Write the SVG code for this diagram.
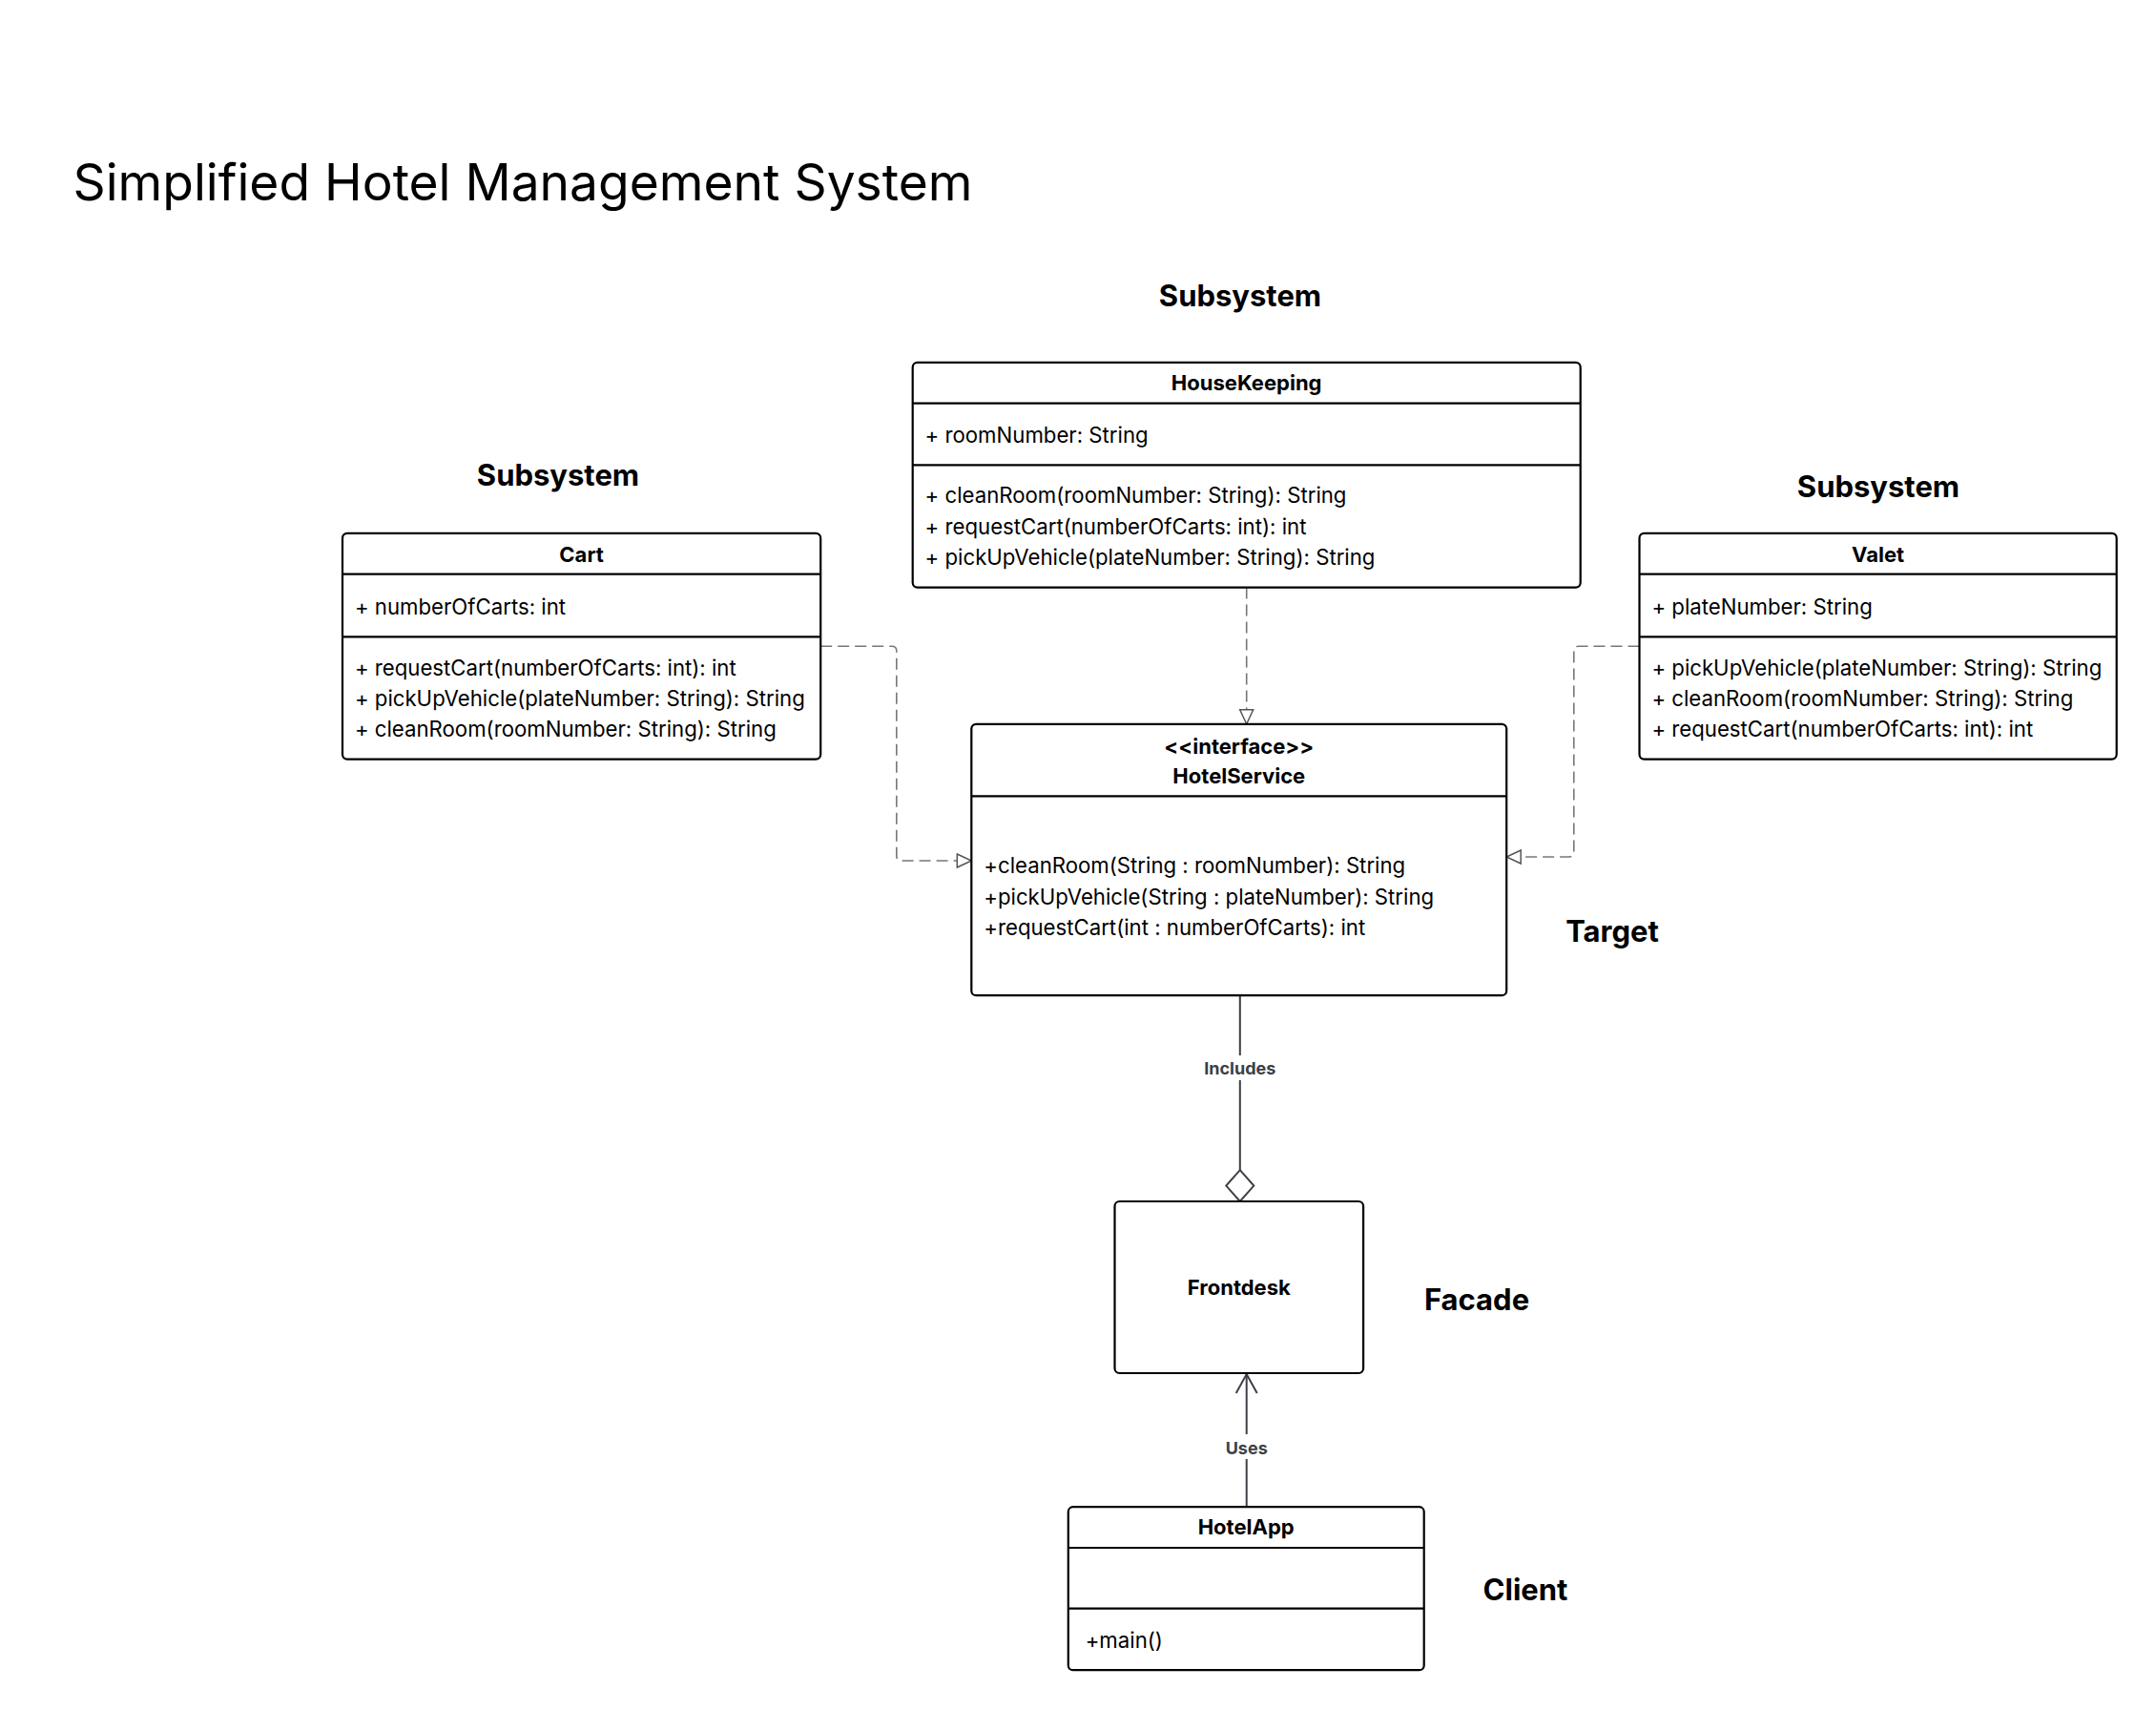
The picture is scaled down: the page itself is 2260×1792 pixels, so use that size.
<svg xmlns="http://www.w3.org/2000/svg" width="2260" height="1792" viewBox="0 0 2260 1792">
<style>
text{font-family:Inter,"Liberation Sans",sans-serif;fill:#000}
.box{fill:#fff;stroke:#000;stroke-width:2.2}
.ln{stroke:#000;stroke-width:2.2}
.hd{font-size:22px;font-weight:700;text-anchor:middle}
.tx{font-size:22.2px}
.lab{font-size:31px;font-weight:700;text-anchor:middle}
.dash{fill:none;stroke:#777;stroke-width:1.6;stroke-dasharray:12 6}
.solid{fill:none;stroke:#3c3f46;stroke-width:2}
.cl{font-size:18px;font-weight:700;fill:#3c3f46;text-anchor:middle}
</style>
<defs>
<marker id="tri" markerWidth="18" markerHeight="18" refX="16" refY="8" orient="auto" markerUnits="userSpaceOnUse">
<path d="M1,1 L16,8 L1,15 Z" fill="#fff" stroke="#555" stroke-width="1.5"/>
</marker>
<marker id="open" markerWidth="24" markerHeight="24" refX="21" refY="12" orient="auto" markerUnits="userSpaceOnUse">
<path d="M1,1 L21,12 L1,23" fill="none" stroke="#3c3f46" stroke-width="2"/>
</marker>
</defs>
<rect width="2260" height="1792" fill="#fff"/>
<text x="76.5" y="209.5" style="font-size:53.3px">Simplified Hotel Management System</text>

<g id="labels">
<text class="lab" x="1300" y="321">Subsystem</text>
<text class="lab" x="585" y="509">Subsystem</text>
<text class="lab" x="1969" y="521">Subsystem</text>
<text class="lab" x="1690" y="987">Target</text>
<text class="lab" x="1548" y="1373">Facade</text>
<text class="lab" x="1599" y="1677">Client</text>
</g>

<g id="connectors">
<path class="dash" d="M1306.7,615.6 L1306.7,758.8" marker-end="url(#tri)"/>
<path class="dash" d="M860.2,677.2 L934.8,677.2 Q939.8,677.2 939.8,682.2 L939.8,897 Q939.8,902 944.8,902 L1018.3,902" marker-end="url(#tri)"/>
<path class="dash" d="M1718.5,677.2 L1654.8,677.2 Q1649.8,677.2 1649.8,682.2 L1649.8,893 Q1649.8,898 1644.8,898 L1579.2,898" marker-end="url(#tri)"/>
<path class="solid" d="M1299.8,1043.2 L1299.8,1226.2"/>
<path d="M1299.8,1226.2 L1314.3,1242.6 L1299.8,1259 L1285.3,1242.6 Z" fill="#fff" stroke="#3c3f46" stroke-width="2"/>
<rect x="1253" y="1106" width="94" height="26" fill="#fff"/>
<text class="cl" x="1299.8" y="1126">Includes</text>
<path class="solid" d="M1306.7,1579.2 L1306.7,1440" marker-end="url(#open)"/>
<rect x="1277" y="1503" width="60" height="26" fill="#fff"/>
<text class="cl" x="1306.7" y="1523.5">Uses</text>
</g>

<g id="HouseKeeping">
<rect class="box" x="956.7" y="379.9" width="700" height="235.7" rx="5"/>
<line class="ln" x1="956.7" y1="422.7" x2="1656.7" y2="422.7"/>
<line class="ln" x1="956.7" y1="487.3" x2="1656.7" y2="487.3"/>
<text class="hd" x="1306.7" y="408.7">HouseKeeping</text>
<text class="tx" x="969.6" y="463.8">+ roomNumber: String</text>
<text class="tx" x="969.6" y="527.4">+ cleanRoom(roomNumber: String): String</text>
<text class="tx" x="969.6" y="560.3">+ requestCart(numberOfCarts: int): int</text>
<text class="tx" x="969.6" y="592.1">+ pickUpVehicle(plateNumber: String): String</text>
</g>

<g id="Cart">
<rect class="box" x="359" y="558.9" width="501.2" height="236.7" rx="5"/>
<line class="ln" x1="359" y1="601.7" x2="860.2" y2="601.7"/>
<line class="ln" x1="359" y1="667.3" x2="860.2" y2="667.3"/>
<text class="hd" x="609.6" y="588.7">Cart</text>
<text class="tx" x="371.9" y="643.8">+ numberOfCarts: int</text>
<text class="tx" x="371.9" y="707.5">+ requestCart(numberOfCarts: int): int</text>
<text class="tx" x="371.9" y="740.3">+ pickUpVehicle(plateNumber: String): String</text>
<text class="tx" x="371.9" y="772.1">+ cleanRoom(roomNumber: String): String</text>
</g>

<g id="Valet">
<rect class="box" x="1718.5" y="558.9" width="500.2" height="236.7" rx="5"/>
<line class="ln" x1="1718.5" y1="601.7" x2="2218.7" y2="601.7"/>
<line class="ln" x1="1718.5" y1="667.3" x2="2218.7" y2="667.3"/>
<text class="hd" x="1968.6" y="588.7">Valet</text>
<text class="tx" x="1731.4" y="643.8">+ plateNumber: String</text>
<text class="tx" x="1731.4" y="707.5">+ pickUpVehicle(plateNumber: String): String</text>
<text class="tx" x="1731.4" y="740.3">+ cleanRoom(roomNumber: String): String</text>
<text class="tx" x="1731.4" y="772.1">+ requestCart(numberOfCarts: int): int</text>
</g>

<g id="HotelService">
<rect class="box" x="1018.3" y="758.8" width="560.9" height="284.4" rx="5"/>
<line class="ln" x1="1018.3" y1="834.4" x2="1579.2" y2="834.4"/>
<text class="hd" x="1298.8" y="789.6">&lt;&lt;interface&gt;&gt;</text>
<text class="hd" x="1298.8" y="821.4">HotelService</text>
<text class="tx" x="1031.3" y="915.3">+cleanRoom(String : roomNumber): String</text>
<text class="tx" x="1031.3" y="948.1">+pickUpVehicle(String : plateNumber): String</text>
<text class="tx" x="1031.3" y="980">+requestCart(int : numberOfCarts): int</text>
</g>

<g id="Frontdesk">
<rect class="box" x="1168.5" y="1259" width="260.6" height="180" rx="5"/>
<text class="hd" x="1298.8" y="1356.5">Frontdesk</text>
</g>

<g id="HotelApp">
<rect class="box" x="1119.8" y="1579.2" width="372.9" height="171" rx="5"/>
<line class="ln" x1="1119.8" y1="1622" x2="1492.7" y2="1622"/>
<line class="ln" x1="1119.8" y1="1685.6" x2="1492.7" y2="1685.6"/>
<text class="hd" x="1306.2" y="1608">HotelApp</text>
<text class="tx" x="1137.7" y="1727">+main()</text>
</g>
</svg>
